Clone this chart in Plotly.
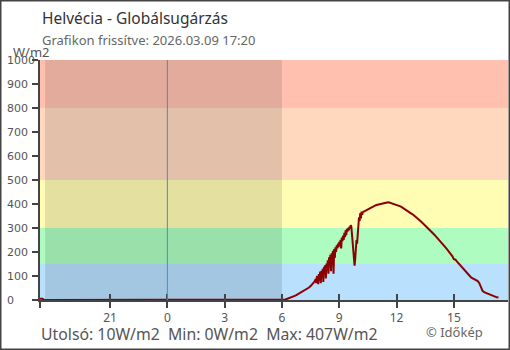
import pandas as pd
import plotly.graph_objects as go

# ---------------- data ----------------
title_text = "Helvécia - Globálsugárzás"
subtitle_text = "Grafikon frissítve: 2026.03.09 17:20"
unit_text = "W/m2"
footer_text = "Utolsó: 10W/m2  Min: 0W/m2  Max: 407W/m2"
credit_text = "© Időkép"

night_times = ["2026-03-08 17:20", "2026-03-08 17:28", "2026-03-08 17:34", "2026-03-09 06:00"]
night_values = [5, 5, 0, 0]

morning_start = "2026-03-09 06:00"   # 5-minute readings
morning_values = [0, 1, 2, 4, 6, 8, 11, 14, 17, 20, 24, 27, 30, 34, 38, 42, 47, 52, 58, 64, 72]

cloudy_start = "2026-03-09 07:42"    # 2-minute readings
cloudy_values = [76, 82, 88, 70, 100, 95, 66, 108, 80, 118, 70, 122, 100, 130, 75, 138, 115, 145,
                 90, 152, 130, 165, 110, 178, 150, 188, 120, 195, 160, 205, 110, 212, 175, 220,
                 200, 228, 215, 235, 220, 242, 230, 250, 215, 260, 245, 268, 250, 280, 262, 290,
                 270, 296, 285, 300, 290, 306, 298, 312, 305, 275, 230, 190, 160, 143, 170, 215,
                 250, 235, 280, 320, 345, 330, 362, 340, 368, 355, 366]

afternoon_start = "2026-03-09 10:20"  # 5-minute readings
afternoon_values = [370, 374, 378, 382, 386, 389, 392, 395, 397, 399, 401, 403, 404, 405, 406, 407,
                    405, 404, 402, 400, 398, 395, 391, 388, 384, 380, 376, 371, 367, 362, 357, 352,
                    347, 341, 335, 329, 323, 317, 311, 304, 298, 291, 284, 277, 270, 263, 256, 248,
                    240, 232, 225, 217, 209, 201, 193, 183, 170, 168, 160, 152, 145, 137, 128, 120,
                    113, 107, 100, 93, 89, 86, 83, 79, 70, 50, 38, 33, 30, 26, 23, 20, 17, 15, 13,
                    11, 10]

band_edges = [0, 150, 300, 500, 800, 1000]
band_colors = ["#b9e0fd", "#aefcbf", "#fffcb4", "#ffd8be", "#ffc0b0"]

x_range = ["2026-03-08 17:20", "2026-03-09 17:50"]
night_span = ["2026-03-08 17:36", "2026-03-09 06:00"]
midnight = "2026-03-09 00:00"

x_tickvals = ["2026-03-08 17:20", "2026-03-08 21:00", "2026-03-09 00:00", "2026-03-09 03:00",
              "2026-03-09 06:00", "2026-03-09 09:00", "2026-03-09 12:00", "2026-03-09 15:00"]
x_ticktext = ["", "21", "0", "3", "6", "9", "12", "15"]
y_tickvals = [0, 100, 200, 300, 400, 500, 600, 700, 800, 900, 1000]
y_ticktext = [str(v) for v in y_tickvals]

# ---------------- build series ----------------
times = (list(pd.to_datetime(night_times))
         + list(pd.date_range(morning_start, periods=len(morning_values), freq="5min"))
         + list(pd.date_range(cloudy_start, periods=len(cloudy_values), freq="2min"))
         + list(pd.date_range(afternoon_start, periods=len(afternoon_values), freq="5min")))
values = night_values + morning_values + cloudy_values + afternoon_values

W, H = 510, 350
ML, MR, MT, MB = 40, 2, 60, 50
PW, PH = W - ML - MR, H - MT - MB


def px(xp):
    return (xp - ML) / PW


def py(yp):
    return (H - MB - yp) / PH


FONT = "Noto Sans"

fig = go.Figure()
fig.add_trace(go.Scatter(x=times, y=values, mode="lines",
                         line=dict(color="#8b0000", width=2), hoverinfo="skip", showlegend=False))
fig.add_trace(go.Scatter(x=[], y=[], xaxis="x2", showlegend=False))

shapes = []
for i, c in enumerate(band_colors):
    shapes.append(dict(type="rect", xref="paper", yref="y", x0=0, x1=1,
                       y0=band_edges[i], y1=band_edges[i + 1], fillcolor=c,
                       line=dict(width=0), layer="below"))
shapes.append(dict(type="rect", xref="x", yref="paper", x0=night_span[0], x1=night_span[1],
                   y0=0, y1=1, fillcolor="rgba(0,0,0,0.11)", line=dict(width=0), layer="below"))
shapes.append(dict(type="line", xref="x", yref="paper", x0=midnight, x1=midnight, y0=0, y1=1,
                   line=dict(color="#3a8fd3", width=1), layer="above"))
# outer frame
shapes.append(dict(type="rect", xref="paper", yref="paper", x0=px(0), x1=px(W), y0=py(H), y1=py(0),
                   line=dict(color="#444444", width=3), fillcolor="rgba(0,0,0,0)"))

annotations = [
    dict(text=title_text, xref="paper", yref="paper", x=px(40), y=py(18), xanchor="left",
         yanchor="middle", showarrow=False, font=dict(family=FONT, size=15.5, color="#333333")),
    dict(text=subtitle_text, xref="paper", yref="paper", x=px(40), y=py(40.5), xanchor="left",
         yanchor="middle", showarrow=False, font=dict(family=FONT, size=13, color="#666666")),
    dict(text=unit_text, xref="paper", yref="paper", x=px(11), y=py(52), xanchor="left",
         yanchor="middle", showarrow=False, font=dict(family=FONT, size=13, color="#555555")),
    dict(text=footer_text, xref="paper", yref="paper", x=px(39), y=py(334), xanchor="left",
         yanchor="middle", showarrow=False, font=dict(family=FONT, size=15.8, color="#555555")),
    dict(text=credit_text, xref="paper", yref="paper", x=px(424), y=py(331.5), xanchor="left",
         yanchor="middle", showarrow=False, font=dict(family=FONT, size=13, color="#666666")),
]
for v, t in zip(y_tickvals, y_ticktext):
    annotations.append(dict(text=t, xref="paper", yref="y", x=px(5), y=v, xanchor="left",
                            yanchor="middle", showarrow=False,
                            font=dict(family="DejaVu Sans", size=11, color="#555555")))

fig.update_layout(
    width=W, height=H, margin=dict(l=ML, r=MR, t=MT, b=MB),
    paper_bgcolor="white", plot_bgcolor="white",
    font=dict(family=FONT, size=12, color="#555555"),
    shapes=shapes, annotations=annotations, showlegend=False,
    xaxis=dict(type="date", range=x_range, tickvals=x_tickvals, ticktext=x_ticktext,
               ticks="outside", ticklen=6, tickwidth=1.5, tickcolor="#444444",
               showline=True, linecolor="#444444", linewidth=1.5, showgrid=False, zeroline=False,
               tickfont=dict(family=FONT, size=12, color="#555555")),
    xaxis2=dict(type="date", range=x_range, tickvals=x_tickvals[1:], overlaying="x",
                ticks="inside", ticklen=6, tickwidth=1.5, tickcolor="#444444",
                showticklabels=False, showline=False, showgrid=False, zeroline=False),
    yaxis=dict(range=[0, 1000], tickvals=y_tickvals, showticklabels=False,
               ticks="outside", ticklen=6, tickwidth=1.5, tickcolor="#444444",
               showline=True, linecolor="#444444", linewidth=1.5, showgrid=False, zeroline=False),
)

fig.write_html("out.html")
